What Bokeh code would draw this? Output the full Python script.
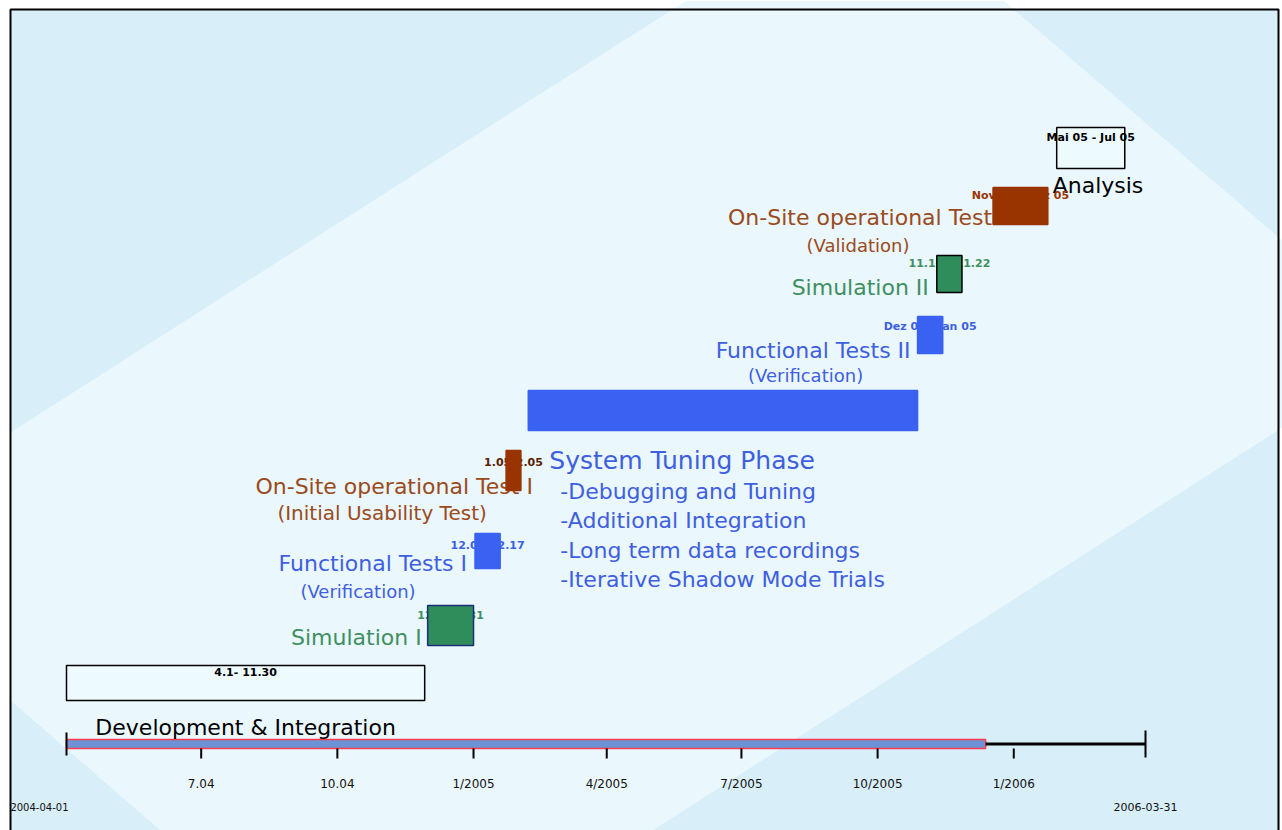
import pandas as pd
from bokeh.plotting import figure
from bokeh.models import Range1d, ColumnDataSource
from bokeh.core.properties import value
from bokeh.embed import file_html
from bokeh.resources import INLINE

# ---------------- data ----------------
tasks = ["Development & Integration", "Simulation I", "Functional Tests I",
         "On-Site operational Test I", "System Tuning Phase", "Functional Tests II",
         "Simulation II", "On-Site operational Test II", "Analysis"]
starts = ["2004-04-01", "2004-12-01", "2005-01-02", "2005-01-23", "2005-02-07",
          "2005-10-28", "2005-11-10", "2005-12-18", "2006-01-30"]
ends = ["2004-11-29", "2005-01-01", "2005-01-19", "2005-02-02", "2005-10-28",
        "2005-11-14", "2005-11-27", "2006-01-24", "2006-03-17"]
date_labels = ["4.1- 11.30", "12.1-12.31", "12.01-12.17", "1.05-2.05", "",
               "Dez 05 - Jan 05", "11.10 - 11.22", "Nov 05 - Dez 05", "Mai 05 - Jul 05"]
sub_labels = ["", "", "(Verification)", "(Initial Usability Test)", "",
              "(Verification)", "", "(Validation)", ""]
tuning_items = ["-Debugging and Tuning", "-Additional Integration",
                "-Long term data recordings", "-Iterative Shadow Mode Trials"]
timeline_start = "2004-04-01"
timeline_end = "2006-03-31"
progress_end = "2005-12-13"
tick_dates = ["2004-07-01", "2004-10-01", "2005-01-01", "2005-04-01",
              "2005-07-01", "2005-10-01", "2006-01-01"]
tick_labels = ["7.04", "10.04", "1/2005", "4/2005", "7/2005", "10/2005", "1/2006"]

# ---------------- layout / style ----------------
W, H = 1282, 830
PX0, PX1 = 66, 1145          # pixel positions of timeline start / end
lane_top = [665, 605, 533, 450, 390, 316, 255, 187, 127]
lane_bot = [700, 645, 568, 490, 430, 353, 292, 224, 168]
BLUE, GREEN, BROWN = "#3a62f2", "#2f8d5c", "#993300"
TBLUE, TGREEN, TBROWN = "#3e5fe0", "#3f8f62", "#9a4a20"
fills = ["#eefbfe", GREEN, BLUE, BROWN, BLUE, BLUE, GREEN, BROWN, "#eefbfe"]
lines = ["black", "#1c2f7a", BLUE, BROWN, BLUE, BLUE, "black", BROWN, "black"]
is_box = [True, False, False, False, False, False, False, False, True]
label_anchor = ["center", "start", "start", "end", "start", "start", "start", "start", "start"]
label_align = ["center", "right", "right", "right", "left", "right", "right", "left", "left"]
label_xoff = [0, -6, -8, 12, 21, -7, -8, -265, -4]
label_y = [727, 637, 563, 486, 460, 350, 287, 217, 185]
label_col = ["black", TGREEN, TBLUE, TBROWN, TBLUE, TBLUE, TGREEN, TBROWN, "black"]
label_size = ["22px"] * 4 + ["25px"] + ["22px"] * 4
sub_xoff = [0, 0, -117, -124, 0, -112, 0, -135, 0]
sub_y = [0, 0, 591, 512, 0, 375, 0, 245, 0]
sub_size = ["", "", "18px", "20px", "", "18px", "", "18px", ""]
date_y = [672, 614, 544, 461, 0, 326, 263, 195, 137]
date_col = ["black", TGREEN, TBLUE, "#5a2000", "", TBLUE, TGREEN, BROWN, "black"]
bullet_y = [491, 520, 550, 579]

# ---------------- scales ----------------
t0 = pd.Timestamp(timeline_start)
t1 = pd.Timestamp(timeline_end)
ppd = (PX1 - PX0) / ((t1 - t0).days)
xr = Range1d(t0 - pd.Timedelta(days=PX0 / ppd), t0 + pd.Timedelta(days=(W - PX0) / ppd))

p = figure(width=W, height=H, x_axis_type="datetime", x_range=xr,
           y_range=Range1d(H, 0), x_axis_location=None, y_axis_location=None,
           toolbar_location=None, output_backend="svg", min_border=0,
           background_fill_color="white", border_fill_color="white")
p.outline_line_color = None
p.grid.visible = False
p.extra_x_ranges = {"px": Range1d(0, W)}

# background panel and diagonal light band
p.quad(left=10, right=1278, top=9, bottom=H + 20, fill_color="#d8eef8",
       line_color=None, x_range_name="px")
p.patch([10, 686, 1003, 1282, 1282, 652, 160, 10], [432, 0, 0, 240, 427, 830, 830, 700],
        fill_color="#eaf7fc", line_color=None, x_range_name="px")
p.quad(left=10, right=1278, top=9, bottom=H + 20, fill_color=None,
       line_color="black", line_width=2, x_range_name="px")

S = [pd.Timestamp(s) for s in starts]
E = [pd.Timestamp(e) for e in ends]
M = [s + (e - s) / 2 for s, e in zip(S, E)]

# timeline
p.quad(left=[t0], right=[pd.Timestamp(progress_end)], top=[739], bottom=[748],
       fill_color="#6b93d6", line_color="#ff3b4e", line_width=1.5)
p.segment(x0=[pd.Timestamp(progress_end)], x1=[t1], y0=[743.5], y1=[743.5],
          line_color="black", line_width=3)
p.segment(x0=[t0, t1], x1=[t0, t1], y0=[732, 730], y1=[755, 757],
          line_color="black", line_width=2)
TD = [pd.Timestamp(d) for d in tick_dates]
p.segment(x0=TD, x1=TD, y0=[748] * len(TD), y1=[758] * len(TD),
          line_color="black", line_width=2)
p.text(x=TD, y=[783] * len(TD), text=tick_labels, text_align="center",
       text_baseline="middle", text_font=value("DejaVu Sans"),
       text_font_size=value("12px"), text_color="#111111")
p.text(x=[t0], y=[806], text=[timeline_start], text_align="right", x_offset=2,
       text_baseline="middle", text_font=value("DejaVu Sans"),
       text_font_size=value("10px"), text_color="#111111")
p.text(x=[t1], y=[806], text=[timeline_end], text_align="center",
       text_baseline="middle", text_font=value("DejaVu Sans"),
       text_font_size=value("11px"), text_color="#111111")

# main labels
ax = [M[i] if a == "center" else (S[i] if a == "start" else E[i]) for i, a in enumerate(label_anchor)]
src_lab = ColumnDataSource(dict(x=ax, y=label_y, text=tasks, align=label_align,
                                xoff=label_xoff, color=label_col, size=label_size))
p.text(x="x", y="y", text="text", source=src_lab, text_align="align", x_offset="xoff",
       text_color="color", text_font_size="size", text_baseline="middle",
       text_font=value("DejaVu Sans"))

# sub labels
idx = [i for i, s in enumerate(sub_labels) if s]
src_sub = ColumnDataSource(dict(x=[S[i] for i in idx], y=[sub_y[i] for i in idx],
                                text=[sub_labels[i] for i in idx],
                                xoff=[sub_xoff[i] for i in idx],
                                color=[label_col[i] for i in idx],
                                size=[sub_size[i] for i in idx]))
p.text(x="x", y="y", text="text", source=src_sub, x_offset="xoff", text_color="color",
       text_align="center", text_baseline="middle", text_font=value("DejaVu Sans"),
       text_font_size="size")

# system tuning bullets
ti = tasks.index("System Tuning Phase")
p.text(x=[S[ti]] * len(tuning_items), y=bullet_y, text=tuning_items, x_offset=32,
       text_align="left", text_baseline="middle", text_font=value("DejaVu Sans"),
       text_font_size=value("22px"), text_color=TBLUE)

# date labels under coloured bars
idx_c = [i for i in range(len(tasks)) if date_labels[i] and not is_box[i]]
p.text(x=[M[i] for i in idx_c], y=[date_y[i] for i in idx_c], text=[date_labels[i] for i in idx_c],
       text_color=[date_col[i] for i in idx_c], text_align="center", text_baseline="middle",
       text_font=value("DejaVu Sans"), text_font_size=value("11px"), text_font_style="bold")

# bars
p.quad(left=S, right=E, top=lane_top, bottom=lane_bot, fill_color=fills,
       line_color=lines, line_width=1.5)

# date labels on white boxes
idx_b = [i for i in range(len(tasks)) if date_labels[i] and is_box[i]]
p.text(x=[M[i] for i in idx_b], y=[date_y[i] for i in idx_b], text=[date_labels[i] for i in idx_b],
       text_color=[date_col[i] for i in idx_b], text_align="center", text_baseline="middle",
       text_font=value("DejaVu Sans"), text_font_size=value("11px"), text_font_style="bold")

open("out.html", "w").write(file_html(p, INLINE))
